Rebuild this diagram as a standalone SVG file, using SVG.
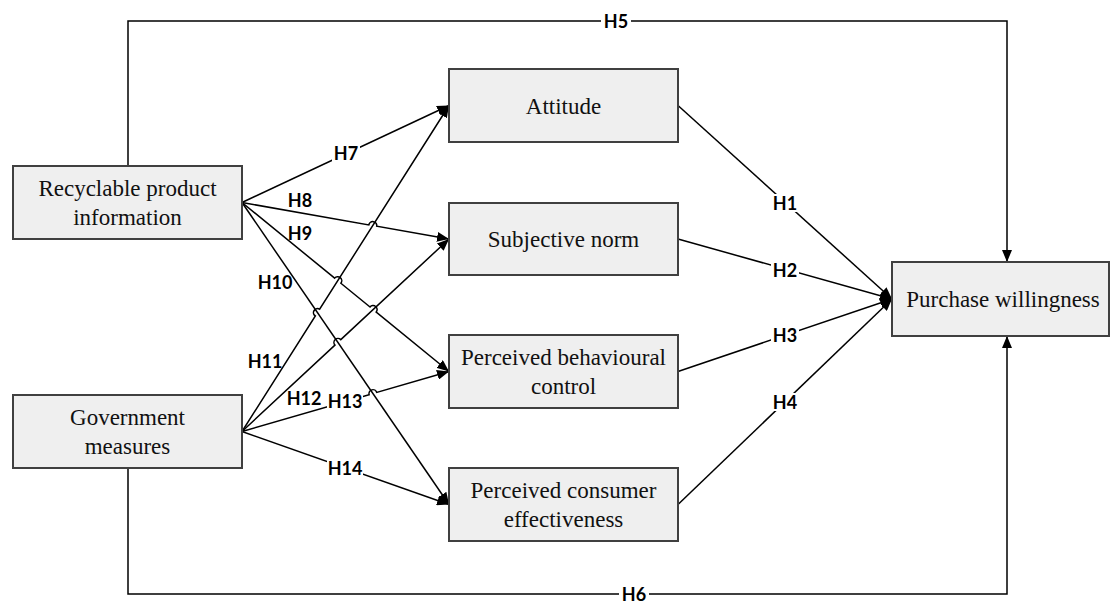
<svg xmlns="http://www.w3.org/2000/svg" width="1110" height="603" viewBox="0 0 1110 603">
<style>
.box{fill:#efefef;stroke:#404040;stroke-width:2}
.nt{font-family:"Liberation Serif","Times New Roman",serif;font-size:23px;fill:#111;text-anchor:middle}
.ln{fill:none;stroke:#000;stroke-width:1.5}
.lb{font-family:Lato,"Open Sans",sans-serif;font-weight:bold;font-size:18px;fill:#000;text-anchor:middle;dominant-baseline:central}
.bg{fill:#fff}
</style>
<defs>
<marker id="ah" viewBox="0 0 12 10" refX="12" refY="5" markerWidth="12" markerHeight="10" markerUnits="userSpaceOnUse" orient="auto"><path d="M0,0 L12,5 L0,10 z" fill="#000"/></marker>
</defs>
<rect width="1110" height="603" fill="#fff"/>
<g id="connectors">
<path class="ln" d="M128,166 V21 H1007 V262" marker-end="url(#ah)"/>
<path class="ln" d="M128,468 V594 H1007 V336" marker-end="url(#ah)"/>
<path class="ln" d="M242,202.5 L449,105.5" marker-end="url(#ah)"/>
<path class="ln" d="M242,202.5 L368.83,224.87 A4,4 0 0 1 376.71,226.25 L449,239" marker-end="url(#ah)"/>
<path class="ln" d="M242,202.5 L334.66,278.15 A4,4 0 0 1 340.86,283.21 L370.03,307.03 A4,4 0 0 1 376.23,312.09 L449,371.5" marker-end="url(#ah)"/>
<path class="ln" d="M242,202.5 L449,504.5" marker-end="url(#ah)"/>
<path class="ln" d="M242,431.5 L315.34,316.00 A4,4 0 0 1 319.62,309.24 L449,105.5" marker-end="url(#ah)"/>
<path class="ln" d="M242,431.5 L334.93,345.07 A4,4 0 0 1 340.79,339.63 L449,239" marker-end="url(#ah)"/>
<path class="ln" d="M242,431.5 L369.11,394.66 A4,4 0 0 1 376.79,392.44 L449,371.5" marker-end="url(#ah)"/>
<path class="ln" d="M242,431.5 L449,504.5" marker-end="url(#ah)"/>
<path class="ln" d="M678,105.5 L892,299" marker-end="url(#ah)"/>
<path class="ln" d="M678,239 L892,299" marker-end="url(#ah)"/>
<path class="ln" d="M678,371.5 L892,299" marker-end="url(#ah)"/>
<path class="ln" d="M678,504.5 L892,299" marker-end="url(#ah)"/>
</g>
<g id="labels">
<rect class="bg" x="601" y="12" width="30" height="18"/><text class="lb" x="616" y="21">H5</text>
<rect class="bg" x="619" y="585" width="30" height="18"/><text class="lb" x="634" y="594">H6</text>
<rect class="bg" x="332" y="144" width="28" height="18"/><text class="lb" x="346" y="153">H7</text>
<text class="lb" x="300" y="200">H8</text>
<text class="lb" x="300" y="233">H9</text>
<text class="lb" x="275" y="282">H10</text>
<text class="lb" x="265" y="361">H11</text>
<text class="lb" x="304" y="398">H12</text>
<rect class="bg" x="327" y="392" width="36" height="18"/><text class="lb" x="345" y="401">H13</text>
<rect class="bg" x="327" y="459" width="36" height="18"/><text class="lb" x="345" y="468">H14</text>
<rect class="bg" x="771" y="194" width="28" height="18"/><text class="lb" x="785" y="203">H1</text>
<rect class="bg" x="771" y="261" width="28" height="18"/><text class="lb" x="785" y="270">H2</text>
<rect class="bg" x="771" y="326" width="28" height="18"/><text class="lb" x="785" y="335">H3</text>
<rect class="bg" x="771" y="393" width="28" height="18"/><text class="lb" x="785" y="402">H4</text>
</g>
<g id="n-recyclable"><rect class="box" x="13" y="166" width="229" height="73"/><text class="nt" x="127.5" y="196">Recyclable product</text><text class="nt" x="127.5" y="225">information</text></g>
<g id="n-government"><rect class="box" x="13" y="395" width="229" height="73"/><text class="nt" x="127.5" y="425">Government</text><text class="nt" x="127.5" y="454">measures</text></g>
<g id="n-attitude"><rect class="box" x="449" y="69" width="229" height="73"/><text class="nt" x="563.5" y="113.5">Attitude</text></g>
<g id="n-subjective"><rect class="box" x="449" y="203" width="229" height="72"/><text class="nt" x="563.5" y="247">Subjective norm</text></g>
<g id="n-pbc"><rect class="box" x="449" y="335" width="229" height="73"/><text class="nt" x="563.5" y="365">Perceived behavioural</text><text class="nt" x="563.5" y="394">control</text></g>
<g id="n-pce"><rect class="box" x="449" y="468" width="229" height="73"/><text class="nt" x="563.5" y="498">Perceived consumer</text><text class="nt" x="563.5" y="527">effectiveness</text></g>
<g id="n-purchase"><rect class="box" x="892" y="262" width="217" height="74"/><text class="nt" x="1003" y="306.5">Purchase willingness</text></g>
</svg>
